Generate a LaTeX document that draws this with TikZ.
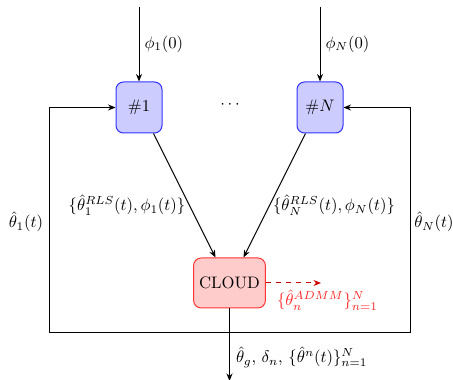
\documentclass[tikz,border=0pt]{standalone}
\usetikzlibrary{arrows.meta}
\begin{document}
\begin{tikzpicture}[x=0.6pt,y=-0.6pt,
  agent/.style={draw=blue!80, fill=blue!20, rounded corners=4.5pt, minimum width=27.6pt, minimum height=30.6pt, semithick},
  cloud/.style={draw=red!80, fill=red!20, rounded corners=4.5pt, minimum width=41.4pt, minimum height=30pt, semithick},
  conn/.style={semithick, -{Stealth[length=4.5pt,width=3.6pt]}},
  lbl/.style={inner sep=1pt}]
\useasboundingbox (0,0) rectangle (453,380);
\node[agent] (a1) at (139,107.5) {$\#1$};
\node[agent] (aN) at (320,107.5) {$\#N$};
\node (dots) at (230,105) {$\cdots$};
\node[cloud] (c) at (229.5,283) {CLOUD};
\coordinate (in1) at (139,7);
\coordinate (inN) at (320,7);
\coordinate (bl) at (49,333);
\coordinate (br) at (410,333);
\coordinate (out) at (229.5,381);
\coordinate (dash) at (321,283);
\draw[conn] (in1) -- (a1.north) node[lbl, pos=0.5, anchor=west, xshift=2pt] {$\phi_1(0)$};
\draw[conn] (inN) -- (aN.north) node[lbl, pos=0.5, anchor=west, xshift=2pt] {$\phi_N(0)$};
\draw[conn] (a1.south east) ++(-9,0) -- ([xshift=-8.4pt]c.north);
\draw[conn] (aN.south west) ++(9,0) -- ([xshift=8.4pt]c.north);
\draw[semithick] (bl) -- (br);
\draw[conn] (bl) |- (a1.west);
\draw[conn] (br) |- (aN.east);
\draw[conn] (c.south) -- (out);
\draw[semithick, dashed, red!80!black, -{Stealth[length=4.5pt,width=3.6pt]}] (c.east) -- (dash);
\node[lbl] (l1) at (127,205) {$\{\hat\theta_1^{RLS}(t),\phi_1(t)\}$};
\node[lbl] (lN) at (334,205) {$\{\hat\theta_N^{RLS}(t),\phi_N(t)\}$};
\node[lbl] (t1) at (26,222) {$\hat\theta_1(t)$};
\node[lbl] (tN) at (434,222) {$\hat\theta_N(t)$};
\node[lbl, red!85, anchor=north west] (adm) at (275,288) {$\{\hat\theta_n^{ADMM}\}_{n=1}^N$};
\node[lbl, anchor=west] (outl) at (234,357) {$\hat\theta_g,\,\delta_n,\,\{\hat\theta^n(t)\}_{n=1}^N$};
\end{tikzpicture}
\end{document}
